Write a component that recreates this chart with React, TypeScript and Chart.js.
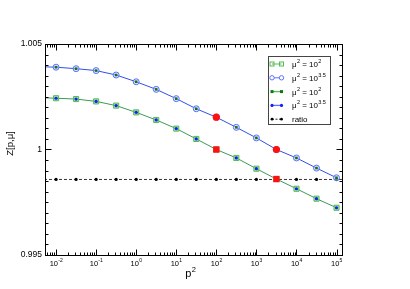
import React, { useEffect, useRef } from 'react';
import { Chart, registerables } from 'chart.js';
Chart.register(...registerables);

// p^2 sample points (half-decade steps)
const P2 = [0.01, 0.0316, 0.1, 0.316, 1, 3.16, 10, 31.6, 100, 316, 1000, 3162, 10000, 31623, 100000];
// Z[p,mu] for mu^2 = 10^2 (open squares, green line)
const Z_MU2 = [1.00243, 1.00239, 1.00228, 1.00208, 1.00176, 1.0014, 1.00099, 1.0005, 1.0, 0.9996, 0.99909, 0.9986, 0.99814, 0.99767, 0.99724];
// Z[p,mu] for mu^2 = 10^3.5 (open circles, blue line)
const Z_MU35 = [1.0039, 1.00383, 1.00374, 1.00353, 1.00321, 1.00285, 1.00241, 1.00193, 1.00153, 1.00105, 1.00055, 1.0, 0.9996, 0.99912, 0.99866];
// left-edge line values (curves continue to the axis)
const EDGE_P2 = 0.005;
const EDGE_Z_MU2 = 1.00245;
const EDGE_Z_MU35 = 1.00392;
// ratio (constant)
const RATIO = 0.99858;
const RATIO_ENDS = [0.005, 150000];
// highlighted points (p^2 = mu^2)
const MARKED_P2 = [100, 3162];
const MARKED_MU2 = [1.0, 0.9986];
const MARKED_MU35 = [1.00153, 1.0];

const X_MIN = 0.0053;
const X_MAX = 137000;
const Y_MIN = 0.995;
const Y_MAX = 1.005;
const Y_LABELS = ['0.995', '1', '1.005'];
const X_EXPONENTS = ['-2', '-1', '0', '1', '2', '3', '4', '5'];
const LEGEND_ITEMS = [
  { base: 'μ', exp: '2', rest: ' = 10', exp2: '2' },
  { base: 'μ', exp: '2', rest: ' = 10', exp2: '3.5' },
  { base: 'μ', exp: '2', rest: ' = 10', exp2: '2' },
  { base: 'μ', exp: '2', rest: ' = 10', exp2: '3.5' },
  { base: 'ratio', exp: '', rest: '', exp2: '' },
];

const FONT = '"Liberation Sans", Arial, Helvetica, sans-serif';
const GREEN_LINE = '#3a9a55';
const GREEN_MARK = '#55bb55';
const GREEN_FILL = 'rgba(140,215,140,0.75)';
const BLUE_LINE = '#3050e8';
const BLUE_MARK = '#6070ff';
const BLUE_FILL = 'rgba(200,205,255,0.6)';
const DOT_GREEN = '#0a7a0a';
const DOT_BLUE = '#1020ff';
const RED = '#ff1010';

const decorPlugin = {
  id: 'decor',
  afterDraw(chart: any) {
    const ctx: CanvasRenderingContext2D = chart.ctx;
    const ca = chart.chartArea;
    const xs = chart.scales.x;
    const ys = chart.scales.y;
    ctx.save();
    // frame
    ctx.strokeStyle = '#000';
    ctx.lineWidth = 1;
    ctx.strokeRect(Math.round(ca.left) + 0.5, Math.round(ca.top) + 0.5, Math.round(ca.right - ca.left), Math.round(ca.bottom - ca.top));
    const L = Math.round(ca.left) + 0.5, R = Math.round(ca.right) + 0.5;
    const T = Math.round(ca.top) + 0.5, B = Math.round(ca.bottom) + 0.5;
    // x ticks
    ctx.beginPath();
    for (let d = -3; d <= 5; d++) {
      for (let m = 1; m <= 9; m++) {
        const v = m * Math.pow(10, d);
        if (v < X_MIN || v > X_MAX) continue;
        const px = Math.round(xs.getPixelForValue(v)) + 0.5;
        const len = m === 1 ? 6 : 3;
        ctx.moveTo(px, B); ctx.lineTo(px, B - len);
        ctx.moveTo(px, T); ctx.lineTo(px, T + len);
      }
    }
    // y ticks
    for (let i = 0; i <= 20; i++) {
      const v = Y_MIN + i * 0.0005;
      const py = Math.round(ys.getPixelForValue(v)) + 0.5;
      const len = i % 10 === 0 ? 6 : 3;
      ctx.moveTo(L, py); ctx.lineTo(L + len, py);
      ctx.moveTo(R, py); ctx.lineTo(R - len, py);
    }
    ctx.stroke();

    // y labels
    ctx.fillStyle = '#000';
    ctx.font = `8.5px ${FONT}`;
    ctx.textAlign = 'right';
    ctx.textBaseline = 'middle';
    Y_LABELS.forEach((s) => {
      const py = ys.getPixelForValue(parseFloat(s));
      ctx.fillText(s, ca.left - 3, py);
    });
    // x labels 10^n
    ctx.textAlign = 'left';
    ctx.textBaseline = 'alphabetic';
    X_EXPONENTS.forEach((e) => {
      const px = xs.getPixelForValue(Math.pow(10, parseFloat(e)));
      ctx.font = `7.5px ${FONT}`;
      const w1 = ctx.measureText('10').width;
      ctx.font = `5px ${FONT}`;
      const w2 = ctx.measureText(e).width;
      const x0 = px - (w1 + w2) / 2;
      ctx.font = `7.5px ${FONT}`;
      ctx.fillText('10', x0, 265.5);
      ctx.font = `5px ${FONT}`;
      ctx.fillText(e, x0 + w1 + 0.3, 262);
    });
    // x title p^2
    ctx.font = `11px ${FONT}`;
    const pw = ctx.measureText('p').width;
    ctx.font = `7.5px ${FONT}`;
    const sw = ctx.measureText('2').width;
    const tx = 190.5 - (pw + sw) / 2;
    ctx.font = `11px ${FONT}`;
    ctx.fillText('p', tx, 277);
    ctx.font = `7.5px ${FONT}`;
    ctx.fillText('2', tx + pw + 0.3, 271.5);
    // y title
    ctx.save();
    ctx.translate(13, 143.5);
    ctx.rotate(-Math.PI / 2);
    ctx.textAlign = 'center';
    ctx.font = `9.5px ${FONT}`;
    ctx.fillText('Z[p,μ]', 0, 0);
    ctx.restore();

    // legend
    const bx = 268, by = 56, bw = 62, bh = 68;
    ctx.fillStyle = '#fff';
    ctx.fillRect(bx, by, bw, bh);
    ctx.strokeStyle = '#444';
    ctx.lineWidth = 1;
    ctx.strokeRect(bx + 0.5, by + 0.5, bw, bh);
    const x1 = 272, x2 = 281.5;
    LEGEND_ITEMS.forEach((it, i) => {
      const cy = 64 + i * 13.8;
      ctx.save();
      ctx.lineWidth = 1;
      if (i === 0) {
        ctx.strokeStyle = GREEN_MARK;
        ctx.beginPath(); ctx.moveTo(x1, cy); ctx.lineTo(x2, cy); ctx.stroke();
        [x1, x2].forEach((x) => { ctx.strokeRect(x - 2, cy - 2, 4, 4); });
      } else if (i === 1) {
        ctx.strokeStyle = BLUE_MARK;
        ctx.beginPath(); ctx.moveTo(x1, cy); ctx.lineTo(x2, cy); ctx.stroke();
        [x1, x2].forEach((x) => { ctx.fillStyle = '#fff'; ctx.beginPath(); ctx.arc(x, cy, 2.2, 0, Math.PI * 2); ctx.fill(); ctx.stroke(); });
      } else if (i === 2) {
        ctx.strokeStyle = GREEN_MARK; ctx.lineWidth = 1.3;
        ctx.beginPath(); ctx.moveTo(x1, cy); ctx.lineTo(x2, cy); ctx.stroke();
        ctx.fillStyle = DOT_GREEN;
        [x1, x2].forEach((x) => { ctx.fillRect(x - 1.5, cy - 1.5, 3, 3); });
      } else if (i === 3) {
        ctx.strokeStyle = BLUE_MARK; ctx.lineWidth = 1.3;
        ctx.beginPath(); ctx.moveTo(x1, cy); ctx.lineTo(x2, cy); ctx.stroke();
        ctx.fillStyle = DOT_BLUE;
        [x1, x2].forEach((x) => { ctx.beginPath(); ctx.arc(x, cy, 1.6, 0, Math.PI * 2); ctx.fill(); });
      } else {
        ctx.strokeStyle = '#222'; ctx.setLineDash([2, 1.5]);
        ctx.beginPath(); ctx.moveTo(x1, cy); ctx.lineTo(x2, cy); ctx.stroke();
        ctx.setLineDash([]);
        ctx.fillStyle = '#000';
        [x1, x2].forEach((x) => { ctx.beginPath(); ctx.arc(x, cy, 1.4, 0, Math.PI * 2); ctx.fill(); });
      }
      ctx.restore();
      // text
      ctx.fillStyle = '#000';
      ctx.textAlign = 'left';
      ctx.textBaseline = 'alphabetic';
      let x = 292;
      const base = cy + 3;
      ctx.font = `8px ${FONT}`;
      ctx.fillText(it.base, x, base);
      x += ctx.measureText(it.base).width;
      if (it.exp) {
        ctx.font = `5.5px ${FONT}`;
        ctx.fillText(it.exp, x + 0.3, base - 4);
        x += ctx.measureText(it.exp).width + 0.3;
      }
      if (it.rest) {
        ctx.font = `8px ${FONT}`;
        ctx.fillText(it.rest, x, base);
        x += ctx.measureText(it.rest).width;
      }
      if (it.exp2) {
        ctx.font = `5.5px ${FONT}`;
        ctx.fillText(it.exp2, x + 0.3, base - 4);
      }
    });
    ctx.restore();
  },
};

export default function App() {
  const ref = useRef<HTMLCanvasElement | null>(null);
  useEffect(() => {
    if (!ref.current) return;
    const pts = (ys: number[]) => P2.map((x, i) => ({ x, y: ys[i] }));
    const chart = new Chart(ref.current, {
      type: 'line',
      data: {
        datasets: [
          {
            label: 'ratio line',
            data: RATIO_ENDS.map((x) => ({ x, y: RATIO })),
            borderColor: '#333',
            borderWidth: 1,
            borderDash: [3, 2],
            pointRadius: 0,
            order: 5,
          },
          {
            label: 'ratio',
            data: P2.map((x) => ({ x, y: RATIO })),
            showLine: false,
            pointRadius: 1.6,
            pointBackgroundColor: '#000',
            pointBorderWidth: 0,
            order: 4,
          },
          {
            label: 'mu2=10^2 line',
            data: [{ x: EDGE_P2, y: EDGE_Z_MU2 }, ...pts(Z_MU2)],
            borderColor: GREEN_LINE,
            borderWidth: 1,
            pointRadius: 0,
            order: 3,
          },
          {
            label: 'mu2=10^3.5 line',
            data: [{ x: EDGE_P2, y: EDGE_Z_MU35 }, ...pts(Z_MU35)],
            borderColor: BLUE_LINE,
            borderWidth: 1,
            pointRadius: 0,
            order: 3,
          },
          {
            label: 'mu2=10^2 open',
            data: pts(Z_MU2),
            showLine: false,
            pointStyle: 'rect',
            pointRadius: 3.6,
            pointBorderColor: GREEN_MARK,
            pointBackgroundColor: GREEN_FILL,
            pointBorderWidth: 1,
            order: 2,
          },
          {
            label: 'mu2=10^3.5 open',
            data: pts(Z_MU35),
            showLine: false,
            pointStyle: 'circle',
            pointRadius: 3,
            pointBorderColor: BLUE_MARK,
            pointBackgroundColor: BLUE_FILL,
            pointBorderWidth: 1,
            order: 2,
          },
          {
            label: 'mu2=10^2 filled',
            data: pts(Z_MU35),
            showLine: false,
            pointStyle: 'rect',
            pointRadius: 1.8,
            pointBackgroundColor: DOT_GREEN,
            pointBorderWidth: 0,
            order: 1,
          },
          {
            label: 'mu2=10^3.5 filled',
            data: pts(Z_MU2),
            showLine: false,
            pointStyle: 'circle',
            pointRadius: 1.6,
            pointBackgroundColor: DOT_BLUE,
            pointBorderWidth: 0,
            order: 1,
          },
          {
            label: 'marked circles',
            data: MARKED_P2.map((x, i) => ({ x, y: MARKED_MU35[i] })),
            showLine: false,
            pointStyle: 'circle',
            pointRadius: 3.6,
            pointBackgroundColor: RED,
            pointBorderWidth: 0,
            order: 0,
          },
          {
            label: 'marked squares',
            data: MARKED_P2.map((x, i) => ({ x, y: MARKED_MU2[i] })),
            showLine: false,
            pointStyle: 'rect',
            pointRadius: 4.5,
            pointBackgroundColor: RED,
            pointBorderWidth: 0,
            order: 0,
          },
        ],
      },
      options: {
        responsive: false,
        animation: false,
        devicePixelRatio: 1,
        layout: { padding: { left: 45, top: 44, right: 68, bottom: 34 } },
        plugins: { legend: { display: false }, tooltip: { enabled: false } },
        scales: {
          x: { type: 'logarithmic', min: X_MIN, max: X_MAX, display: false },
          y: { type: 'linear', min: Y_MIN, max: Y_MAX, display: false },
        },
      },
      plugins: [decorPlugin],
    });
    return () => chart.destroy();
  }, []);
  return (
    <div style={{ position: 'fixed', left: 0, top: 0, width: 410, height: 289, background: '#fff' }}>
      <canvas ref={ref} width={410} height={289} style={{ width: 410, height: 289 }} />
    </div>
  );
}
